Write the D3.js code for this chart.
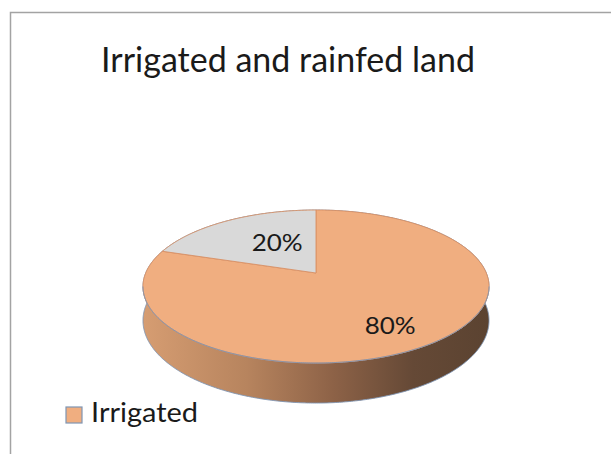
<!DOCTYPE html>
<html>
<head>
<meta charset="utf-8">
<script src="https://cdn.jsdelivr.net/npm/d3@7"></script>
<style>
  html, body { margin: 0; padding: 0; background: #ffffff; }
  svg { display: block; }
  text { font-family: Lato, "Open Sans", sans-serif; fill: #1a1a1a; }
</style>
</head>
<body>
<svg id="chart" width="611" height="454"></svg>
<script>
// ---- data ----
const title = "Irrigated and rainfed land";
const categories = ["Irrigated", "Rainfed"];
const values = [80, 20];
const valueLabels = ["80%", "20%"];
const legendItems = ["Irrigated"];

// ---- styling ----
const topColors = ["#f0ae80", "#d9d9d9"];
const edgeColors = ["#d99165", "#d99165"];

const svg = d3.select("#chart");

// chart frame
svg.append("path")
  .attr("d", "M10.5,454 L10.5,12.5 L611,12.5")
  .attr("fill", "none")
  .attr("stroke", "#a3a3a3")
  .attr("stroke-width", 1.5);

// title
svg.append("text")
  .attr("x", 101).attr("y", 72)
  .attr("font-size", 35)
  .attr("textLength", 374)
  .attr("lengthAdjust", "spacingAndGlyphs")
  .text(title);

// ---- 3D pie projection (tilted disc seen in perspective) ----
const cx = 316, cy = 273;       // projected centre of the top face
const A = 170.3, B = 74.1;      // horizontal / vertical radii before perspective
const k = 0.1765;               // perspective strength (front is nearer)
const depth = 33;               // thickness of the disc

// theta: clockwise from 12 o'clock, r: fraction of radius, z: 0 top face, 1 bottom face
function proj(theta, r, z) {
  const X = r * Math.sin(theta);
  const Y = -r * Math.cos(theta);
  const w = 1 - k * Y;
  return [cx + A * X / w, cy + (B * Y + depth * z) / w];
}

function arcPoints(a0, a1, r, z) {
  const n = Math.max(2, Math.ceil(Math.abs(a1 - a0) / 0.01));
  return d3.range(n + 1).map(i => proj(a0 + (a1 - a0) * i / n, r, z));
}

const pie = d3.pie().sort(null).value(d => d);
const arcs = pie(values);
const line = d3.line();

// side gradient (light on the left, dark on the right)
const defs = svg.append("defs");
const grad = defs.append("linearGradient")
  .attr("id", "sideShade")
  .attr("gradientUnits", "userSpaceOnUse")
  .attr("x1", cx - A - 3).attr("y1", 0)
  .attr("x2", cx + A + 3).attr("y2", 0);
[["0%", "#d69d72"], ["30%", "#b7845e"], ["55%", "#8d6247"], ["78%", "#654936"], ["100%", "#5b4331"]]
  .forEach(([o, c]) => grad.append("stop").attr("offset", o).attr("stop-color", c));

const sideFills = ["url(#sideShade)", "#9a9a9a"];

// outer walls
const gSide = svg.append("g");
arcs.forEach((a, i) => {
  const pts = arcPoints(a.startAngle, a.endAngle, 1, 0)
    .concat(arcPoints(a.endAngle, a.startAngle, 1, 1));
  gSide.append("path")
    .attr("d", line(pts) + "Z")
    .attr("fill", sideFills[i])
    .attr("stroke", "#7f95b3")
    .attr("stroke-width", 0.9)
    .attr("stroke-linejoin", "round");
});

// top faces
const gTop = svg.append("g");
arcs.forEach((a, i) => {
  const pts = [proj(0, 0, 0)].concat(arcPoints(a.startAngle, a.endAngle, 1, 0));
  gTop.append("path")
    .attr("d", line(pts) + "Z")
    .attr("fill", topColors[i])
    .attr("stroke", edgeColors[i])
    .attr("stroke-width", 0.9)
    .attr("stroke-linejoin", "round");
});

// front rim of the top face
const silhouette = Math.acos(-k);
svg.append("path")
  .attr("d", line(arcPoints(silhouette, 2 * Math.PI - silhouette, 1, 0)))
  .attr("fill", "none")
  .attr("stroke", "#7f95b3")
  .attr("stroke-width", 0.9);

// value labels
const labelRadius = [0.67, 0.41];
const labelShift = [8, -8];
arcs.forEach((a, i) => {
  const mid = (a.startAngle + a.endAngle) / 2;
  const [x, y] = proj(mid, labelRadius[i], 0);
  svg.append("text")
    .attr("x", x).attr("y", y + labelShift[i])
    .attr("text-anchor", "middle")
    .attr("dominant-baseline", "central")
    .attr("font-size", 23)
    .attr("textLength", 51)
    .attr("lengthAdjust", "spacingAndGlyphs")
    .text(valueLabels[i]);
});

// legend
const legend = svg.append("g");
legendItems.forEach((name, i) => {
  const idx = categories.indexOf(name);
  const row = legend.append("g").attr("transform", `translate(0,${i * 26})`);
  row.append("rect")
    .attr("x", 66).attr("y", 407)
    .attr("width", 16).attr("height", 16)
    .attr("fill", topColors[idx])
    .attr("stroke", "#7f95b3")
    .attr("stroke-width", 1.2);
  row.append("text")
    .attr("x", 91).attr("y", 422)
    .attr("font-size", 26)
    .attr("textLength", 107)
    .attr("lengthAdjust", "spacingAndGlyphs")
    .text(name);
});
</script>
</body>
</html>
